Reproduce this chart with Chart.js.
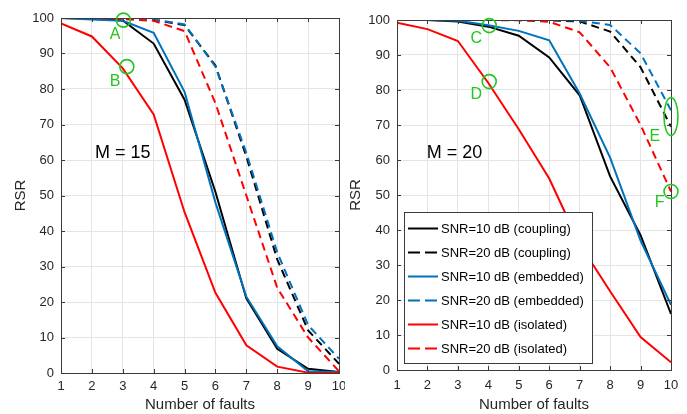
<!DOCTYPE html>
<html>
<head>
<meta charset="utf-8">
<script src="https://cdn.jsdelivr.net/npm/chart.js@4.4.0/dist/chart.umd.min.js"></script>
<style>
  html, body { margin: 0; padding: 0; background: #fff; }
  #wrap { position: relative; width: 687px; height: 414px; overflow: hidden; }
  canvas { position: absolute; top: 0; }
  #chartM15 { left: 0; }
  #chartM20 { left: 345px; background: #fff; }
</style>
</head>
<body>
<div id="wrap">
  <canvas id="chartM15" width="360" height="414"></canvas>
  <canvas id="chartM20" width="342" height="414"></canvas>
</div>
<script>
// x categories (number of faults)
const faults = [1, 2, 3, 4, 5, 6, 7, 8, 9, 10];

const seriesNames = [
    'SNR=10 dB (coupling)',
    'SNR=20 dB (coupling)',
    'SNR=10 dB (embedded)',
    'SNR=20 dB (embedded)',
    'SNR=10 dB (isolated)',
    'SNR=20 dB (isolated)'
];

// M = 15 (left panel)
const coupling10M15 = [100, 99.8, 99.3, 92.8, 77.0, 51.0, 21.0, 6.8, 1.2, 0.3];
const coupling20M15 = [100, 100, 99.8, 99.5, 98.0, 86.6, 61.0, 32.0, 12.0, 2.6];
const embedded10M15 = [100, 99.6, 99.2, 95.8, 79.2, 48.0, 21.5, 7.5, 0.5, 0.2];
const embedded20M15 = [100, 100, 99.9, 99.6, 98.2, 86.3, 62.0, 34.0, 13.5, 4.0];
const isolated10M15 = [98.5, 94.8, 85.8, 72.8, 45.3, 22.6, 7.8, 1.8, 0.1, 0];
const isolated20M15 = [100, 100, 99.7, 99.2, 96.3, 76.0, 50.0, 24.0, 10.0, 0.5];

// M = 20 (right panel)
const coupling10M20 = [100, 100, 99.6, 98.1, 95.5, 89.3, 78.5, 55.3, 38.5, 16.0];
const coupling20M20 = [100, 100, 100, 100, 100, 99.9, 99.6, 96.7, 86.5, 69.5];
const embedded10M20 = [100, 100, 99.8, 98.5, 96.9, 94.2, 79.0, 60.7, 37.0, 18.6];
const embedded20M20 = [100, 100, 100, 100, 100, 100, 99.8, 98.6, 90.5, 74.2];
const isolated10M20 = [99.2, 97.4, 94.0, 82.0, 68.8, 54.7, 36.0, 22.5, 9.4, 2.2];
const isolated20M20 = [100, 100, 100, 100, 99.9, 99.5, 96.5, 86.5, 70.0, 51.0];

// green marks and letters, in data coordinates
const marksM15 = [{x: 3.02, y: 99.4, shape: 'circle'}, {x: 3.13, y: 86.3, shape: 'circle'}];
const lettersM15 = [{text: 'A', x: 2.75, y: 95.2}, {text: 'B', x: 2.75, y: 82}];
const marksM20 = [
    {x: 4.03, y: 98.4, shape: 'circle'},
    {x: 4.03, y: 82.4, shape: 'circle'},
    {x: 10, y: 72.4, shape: 'ellipse'},
    {x: 10, y: 51, shape: 'circle'}
];
const lettersM20 = [
    {text: 'C', x: 3.6, y: 94.8},
    {text: 'D', x: 3.6, y: 78.6},
    {text: 'E', x: 9.47, y: 66.7},
    {text: 'F', x: 9.63, y: 47.7}
];
const panelLabelM15 = {text: 'M = 15', x: 2.1, y: 62};
const panelLabelM20 = {text: 'M = 20', x: 1.98, y: 62};

const seriesColors = ['#000000', '#000000', '#0072BD', '#0072BD', '#FF0000', '#FF0000'];
const seriesDashed = [false, true, false, true, false, true];

const textColor = '#262626';
const axisColor = '#3a3a3a';
const gridColor = '#e4e4e4';
const green = '#22C722';
const fontFamily = '"Liberation Sans", Arial, Helvetica, sans-serif';

Chart.defaults.font.family = fontFamily;
Chart.defaults.color = textColor;

function makeDatasets(valueLists) {
    return valueLists.map(function(vals, i) {
        return {
            label: seriesNames[i],
            data: faults.map(function(f, j) { return {x: f, y: vals[j]}; }),
            borderColor: seriesColors[i],
            backgroundColor: seriesColors[i],
            borderWidth: 2,
            borderDash: seriesDashed[i] ? [8, 5] : [],
            pointRadius: 0,
            fill: false,
            tension: 0,
            // later series drawn on top, like the original plot
            order: valueLists.length - i
        };
    });
}

// box + inward ticks, green marks, panel text
const decorPlugin = {
    id: 'decor',
    afterDatasetsDraw(chart, args, opts) {
        const ctx = chart.ctx;
        const a = chart.chartArea;
        const x = chart.scales.x;
        const y = chart.scales.y;
        ctx.save();

        // axes box with inward ticks
        ctx.strokeStyle = axisColor;
        ctx.lineWidth = 1;
        ctx.beginPath();
        x.ticks.forEach(function(t) {
            const px = Math.round(x.getPixelForValue(t.value)) + 0.5;
            ctx.moveTo(px, a.bottom); ctx.lineTo(px, a.bottom - 4);
            ctx.moveTo(px, a.top); ctx.lineTo(px, a.top + 4);
        });
        y.ticks.forEach(function(t) {
            const py = Math.round(y.getPixelForValue(t.value)) + 0.5;
            ctx.moveTo(a.left, py); ctx.lineTo(a.left + 4, py);
            ctx.moveTo(a.right, py); ctx.lineTo(a.right - 4, py);
        });
        ctx.stroke();
        ctx.strokeRect(Math.round(a.left) + 0.5, Math.round(a.top) + 0.5,
            Math.round(a.right - a.left), Math.round(a.bottom - a.top));

        // green marks
        ctx.strokeStyle = green;
        ctx.lineWidth = 1.6;
        opts.marks.forEach(function(m) {
            const cx = x.getPixelForValue(m.x);
            const cy = y.getPixelForValue(m.y);
            ctx.beginPath();
            if (m.shape === 'ellipse') {
                ctx.ellipse(cx, cy, 7, 19, 0, 0, Math.PI * 2);
            } else {
                ctx.arc(cx, cy, 7, 0, Math.PI * 2);
            }
            ctx.stroke();
        });

        ctx.fillStyle = green;
        ctx.font = '16px ' + fontFamily;
        ctx.textAlign = 'center';
        ctx.textBaseline = 'middle';
        opts.letters.forEach(function(l) {
            ctx.fillText(l.text, x.getPixelForValue(l.x), y.getPixelForValue(l.y));
        });

        // panel label
        ctx.fillStyle = '#000';
        ctx.font = '18px ' + fontFamily;
        ctx.textAlign = 'left';
        ctx.fillText(opts.panel.text, x.getPixelForValue(opts.panel.x), y.getPixelForValue(opts.panel.y));
        ctx.restore();
    }
};

// legend box drawn inside the plot area (right panel only)
const boxLegendPlugin = {
    id: 'boxLegend',
    afterDraw(chart, args, opts) {
        if (!opts.show) return;
        const ctx = chart.ctx;
        const sets = chart.data.datasets;
        ctx.save();
        ctx.fillStyle = '#fff';
        ctx.fillRect(opts.left, opts.top, opts.width, opts.height);
        ctx.strokeStyle = axisColor;
        ctx.lineWidth = 1;
        ctx.strokeRect(opts.left + 0.5, opts.top + 0.5, opts.width, opts.height);

        ctx.font = '13px ' + fontFamily;
        ctx.textBaseline = 'middle';
        ctx.textAlign = 'left';
        sets.forEach(function(ds, i) {
            const cy = opts.firstRow + i * opts.rowGap;
            ctx.strokeStyle = ds.borderColor;
            ctx.lineWidth = 2;
            ctx.setLineDash(ds.borderDash.length ? [12, 5] : []);
            ctx.beginPath();
            ctx.moveTo(opts.left + 4, cy);
            ctx.lineTo(opts.left + 34, cy);
            ctx.stroke();
            ctx.setLineDash([]);
            ctx.fillStyle = '#000';
            ctx.fillText(ds.label, opts.left + 37, cy + 0.5);
        });
        ctx.restore();
    }
};

function makeOptions(cfg) {
    return {
        responsive: false,
        animation: false,
        layout: {padding: {left: 0, right: cfg.padRight, top: cfg.padTop, bottom: 0}},
        plugins: {
            legend: {display: false},
            tooltip: {enabled: false},
            decor: {marks: cfg.marks, letters: cfg.letters, panel: cfg.panel},
            boxLegend: cfg.legend
        },
        scales: {
            x: {
                type: 'linear',
                min: 1,
                max: 10,
                ticks: {stepSize: 1, padding: cfg.xTickPad, color: textColor, font: {size: 13}, maxRotation: 0, autoSkip: false},
                grid: {color: gridColor, drawTicks: false},
                border: {display: false},
                title: {display: true, text: 'Number of faults', color: textColor, font: {size: 15}, padding: {top: 0, bottom: 0}},
                afterFit: function(s) { s.height = cfg.xHeight; }
            },
            y: {
                min: 0,
                max: 100,
                ticks: {stepSize: 10, padding: 7, color: textColor, font: {size: 13}},
                grid: {color: gridColor, drawTicks: false},
                border: {display: false},
                title: {display: true, text: 'RSR', color: textColor, font: {size: 15}, padding: {top: cfg.yTitlePad, bottom: 0}},
                afterFit: function(s) { s.width = cfg.yWidth; }
            }
        }
    };
}

new Chart(document.getElementById('chartM15'), {
    type: 'line',
    data: {datasets: makeDatasets([coupling10M15, coupling20M15, embedded10M15, embedded20M15, isolated10M15, isolated20M15])},
    options: makeOptions({
        padRight: 21, padTop: 18, xHeight: 41, yWidth: 61, yTitlePad: 12, xTickPad: 6,
        marks: marksM15, letters: lettersM15, panel: panelLabelM15,
        legend: {show: false}
    }),
    plugins: [decorPlugin, boxLegendPlugin]
});

new Chart(document.getElementById('chartM20'), {
    type: 'line',
    data: {datasets: makeDatasets([coupling10M20, coupling20M20, embedded10M20, embedded20M20, isolated10M20, isolated20M20])},
    options: makeOptions({
        padRight: 16, padTop: 20, xHeight: 44, yWidth: 52, yTitlePad: 2, xTickPad: 8,
        marks: marksM20, letters: lettersM20, panel: panelLabelM20,
        legend: {show: true, left: 59, top: 212, width: 188, height: 151, firstRow: 228.5, rowGap: 24}
    }),
    plugins: [decorPlugin, boxLegendPlugin]
});
</script>
</body>
</html>
